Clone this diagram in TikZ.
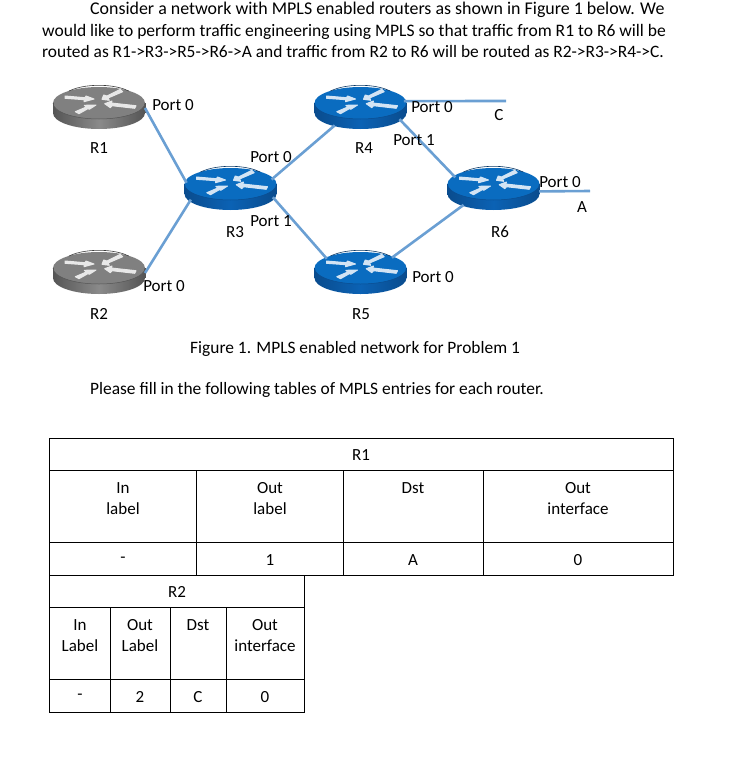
\documentclass[tikz,border=0pt]{standalone}
\usepackage{fontspec}
\setmainfont{Carlito}
\usepackage{xcolor}
\usetikzlibrary{shapes.geometric}
\definecolor{linkblue}{HTML}{6A9FD3}
\definecolor{bluetop}{HTML}{0A6CC0}
\definecolor{bluelow}{HTML}{0B62B4}
\definecolor{blueedge}{HTML}{0A4C8E}
\definecolor{graytop}{HTML}{808080}
\definecolor{graylow}{HTML}{8A8A8A}
\definecolor{grayedge}{HTML}{555555}
\tikzset{
  pics/routerface/.style n args={3}{code={
    \shade[left color=#3, right color=#3, middle color=#2]
      (-46,0) -- (-46,10) arc[start angle=180, end angle=360, x radius=46pt, y radius=16pt]
      -- (46,0) -- cycle;
    \fill[#1] (0,0) ellipse[x radius=46pt, y radius=16pt];
    \draw[#3, line width=0.5pt] (-46,0) arc[start angle=180, end angle=360, x radius=46pt, y radius=16pt];
    \draw[#3, line width=0.5pt] (-46,0) -- (-46,10) (46,0) -- (46,10);
    \draw[#3!70!black, line width=0.6pt] (-30,-12) arc[start angle=140, end angle=40, x radius=39pt, y radius=16pt];
    % the four white arrows
    \begin{scope}[white!82!#1, line width=1pt, line join=round]
      \filldraw (-34,-7) -- (-14,-5.3) -- (-13,-7) -- (-5,-4) -- (-15,-1.3) -- (-14.7,-3.3) -- (-34,-4.7) -- cycle;
      \filldraw (-23.7,8.7) -- (-12.7,4) -- (-14.7,2.3) -- (-3,2) -- (-9.7,6.3) -- (-11,5.6) -- (-20,10.7) -- cycle;
      \filldraw (5.7,0.7) -- (13,-2) -- (12.3,0) -- (37,2.7) -- (35.7,5.3) -- (13,2.7) -- (11.3,4.7) -- cycle;
      \filldraw (21.3,-13.7) -- (8,-7) -- (4.7,-8) -- (3,-3.7) -- (10.3,-2.7) -- (9,-5) -- (23.7,-11.3) -- cycle;
    \end{scope}
  }}
}
\begin{document}
\begin{tikzpicture}[
  x=1pt, y=-1pt,
  routerbox/.style={ellipse, minimum width=92pt, minimum height=42pt, inner sep=0pt, outer sep=0pt},
  link/.style={linkblue, line width=2.6pt},
  txt/.style={font=\fontsize{17}{21}\selectfont, inner sep=0pt, align=center},
  para/.style={font=\fontsize{17.4}{21}\selectfont, inner sep=0pt, anchor=base west},
  port/.style={txt},
  grid/.style={black, line width=0.9pt}
]
  \useasboundingbox (0,0) rectangle (740,758);
  % routers
  \node[routerbox] (r1) at (99,108) {};
  \node[routerbox] (r2) at (99,273) {};
  \node[routerbox] (r3) at (230.5,189) {};
  \node[routerbox] (r4) at (360.5,108) {};
  \node[routerbox] (r5) at (360.5,273) {};
  \node[routerbox] (r6) at (493.5,189) {};
  \pic at (99,103) {routerface={graytop}{graylow}{grayedge}};
  \pic at (99,268) {routerface={graytop}{graylow}{grayedge}};
  \pic at (230.5,184) {routerface={bluetop}{bluelow}{blueedge}};
  \pic at (360.5,103) {routerface={bluetop}{bluelow}{blueedge}};
  \pic at (360.5,268) {routerface={bluetop}{bluelow}{blueedge}};
  \pic at (493.5,184) {routerface={bluetop}{bluelow}{blueedge}};
  \coordinate (c) at (506,101);
  \coordinate (a) at (590,191);
  % links
  \draw[link] (r1.east) -- (r3.172);
  \draw[link] (r2.east) -- (r3.195);
  \draw[link] (r3.13) -- (r4.214);
  \draw[link] (r3.-11) -- (r5.157);
  \draw[link] (r4.-16) -- (r6.163);
  \draw[link] (r5.26) -- (r6.208);
  \draw[link] (r4.9) -- (c);
  \draw[link] (r6.-3) -- (a);
  % text above the figure
  \node[para, font=\fontsize{17.9}{21}\selectfont] (t1) at (90,14) {Consider a network with MPLS enabled routers as shown in Figure 1 below. We};
  \node[para, font=\fontsize{17.54}{21}\selectfont] (t2) at (42,36) {would like to perform traffic engineering using MPLS so that traffic from R1 to R6 will be};
  \node[para] (t3) at (42,57) {routed as R1->R3->R5->R6->A and traffic from R2 to R6 will be routed as R2->R3->R4->C.};
  % router and port labels
  \node[port] (lr1) at (99,148) {R1};
  \node[port] (lr2) at (99,314) {R2};
  \node[port] (lr3) at (235,232) {R3};
  \node[port] (lr4) at (364,148) {R4};
  \node[port] (lr5) at (361,314) {R5};
  \node[port] (lr6) at (500,232) {R6};
  \node[port] (p1) at (173,105.5) {Port 0};
  \node[port] (p2) at (164,286.5) {Port 0};
  \node[port] (p3) at (271,157) {Port 0};
  \node[port] (p4) at (271,221) {Port 1};
  \node[port] (p5) at (432,107) {Port 0};
  \node[port] (p6) at (414,140) {Port 1};
  \node[port] (p7) at (433,277.5) {Port 0};
  \node[port] (p8) at (560,182.5) {Port 0};
  \node[port] (lc) at (499,115) {C};
  \node[port] (la) at (582,207) {A};
  \node[para] (cap) at (190,353.5) {Figure 1. MPLS enabled network for Problem 1};
  \node[para] (fill) at (90,394) {Please fill in the following tables of MPLS entries for each router.};
  % table R1
  \draw[grid] (49.5,438.5) rectangle (673,575);
  \draw[grid] (49.5,470.5) -- (673,470.5);
  \draw[grid] (49.5,542.5) -- (673,542.5);
  \foreach \x in {196.5,343.5,483} \draw[grid] (\x,470.5) -- (\x,575);
  % table R2
  \draw[grid] (49.5,575) rectangle (304.5,712);
  \draw[grid] (49.5,607.5) -- (304.5,607.5);
  \draw[grid] (49.5,679.5) -- (304.5,679.5);
  \foreach \x in {110.5,170.5,226.5} \draw[grid] (\x,607.5) -- (\x,712);
  % cell texts
  \foreach \x/\y/\t [count=\i] in {
    361/455/R1, 123/498.7/{In\\label}, 270/498.7/{Out\\label}, 413/488/Dst, 578/498.7/{Out\\interface},
    123/560/-, 270/560/1, 413/560/A, 578/560/0,
    177/592/R2, 80/635.7/{In\\Label}, 140/635.7/{Out\\Label}, 198/625/Dst, 265/635.7/{Out\\interface},
    80/697/-, 140/697/2, 198/697/C, 265/697/0}
    \node[txt] (cell\i) at (\x,\y) {\t};
\end{tikzpicture}
\end{document}
